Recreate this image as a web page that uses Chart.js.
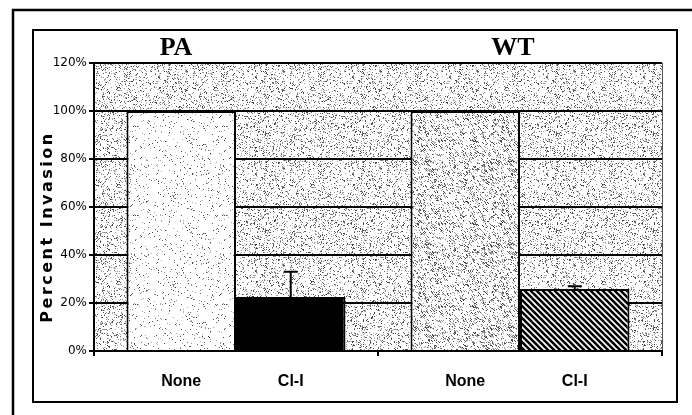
<!DOCTYPE html>
<html>
<head>
<meta charset="utf-8">
<script src="https://cdn.jsdelivr.net/npm/chart.js@4"></script>
<style>
  html, body { margin: 0; padding: 0; background: #fff; }
  canvas { display: block; }
</style>
</head>
<body>
<canvas id="c" width="692" height="415"></canvas>
<script>
// Percent invasion, PA vs WT, untreated ("None") vs Cl-I treated.

const groups = ["PA", "WT"];
const seriesNames = ["None", "Cl-I"];
const noneValues = [100, 100];
const clValues = [22.5, 25.8];
const clErrTop = [33, 27];          // upper whisker only
const yTicks = [0, 20, 40, 60, 80, 100, 120];
const groupTitleDx = [-60, -7];     // title offset from group centre (px)

(function () {
  const canvas = document.getElementById("c");
  const ctx = canvas.getContext("2d");

  // ---- fill textures ----------------------------------------------------

  // small deterministic speckle tile, looks like the scanned halftone
  function stipple(size, density, seed, diag) {
    const off = document.createElement("canvas");
    off.width = off.height = size;
    const g = off.getContext("2d");
    g.fillStyle = "#fff";
    g.fillRect(0, 0, size, size);
    let s = seed;
    const next = () => (s = (s * 1103515245 + 12345) & 0x7fffffff) / 0x7fffffff;
    const n = Math.round(size * size * density);
    const inks = ["#666", "#999", "#aaa", "#444"];
    for (let i = 0; i < n; i++) {
      g.fillStyle = inks[i % inks.length];
      const px = Math.floor(next() * size), py = Math.floor(next() * size);
      g.fillRect(px, py, 1, 1);
      if (diag && i % 3 === 0) g.fillRect((px + 1) % size, (py + 1) % size, 1, 1);
    }
    return ctx.createPattern(off, "repeat");
  }

  function stripes(period, width) {
    const off = document.createElement("canvas");
    off.width = off.height = period;
    const g = off.getContext("2d");
    g.fillStyle = "#fff";
    g.fillRect(0, 0, period, period);
    g.strokeStyle = "#000";
    g.lineWidth = width;
    g.beginPath();
    g.moveTo(-period, -period); g.lineTo(2 * period, 2 * period);
    g.moveTo(-period, 0); g.lineTo(period, 2 * period);
    g.moveTo(0, -period); g.lineTo(2 * period, period);
    g.stroke();
    return ctx.createPattern(off, "repeat");
  }

  const plotFill = stipple(97, 0.2, 7, false);
  const paNoneFill = stipple(89, 0.06, 31, false);
  const wtNoneFill = stipple(83, 0.2, 113, true);
  const hatchFill = stripes(6, 2.6);

  // ---- plugins -----------------------------------------------------------

  const frame = {
    id: "frame",
    beforeDraw(chart) {
      const c = chart.ctx, a = chart.chartArea;
      c.save();
      c.fillStyle = plotFill;
      c.fillRect(a.left, a.top, a.right - a.left, a.bottom - a.top);
      c.strokeStyle = "#000";
      c.lineWidth = 2.5;
      c.beginPath();
      c.moveTo(692, 10); c.lineTo(13, 10); c.lineTo(13, 415);
      c.stroke();
      c.lineWidth = 2;
      c.strokeRect(33, 30, 644, 372);
      c.strokeStyle = "#555";
      c.lineWidth = 1;
      c.beginPath();
      c.moveTo(a.right + 0.5, a.top); c.lineTo(a.right + 0.5, a.bottom);
      c.stroke();
      c.restore();
    },
  };

  const extras = {
    id: "extras",
    afterDatasetsDraw(chart) {
      const c = chart.ctx, y = chart.scales.y, x = chart.scales.x;
      const a = chart.chartArea;
      c.save();
      // error bars on the Cl-I bars
      c.strokeStyle = "#000";
      c.lineWidth = 2;
      chart.getDatasetMeta(1).data.forEach((bar, i) => {
        const top = y.getPixelForValue(clErrTop[i]);
        c.beginPath();
        c.moveTo(bar.x, bar.y);
        c.lineTo(bar.x, top);
        c.moveTo(bar.x - 7, top);
        c.lineTo(bar.x + 7, top);
        c.stroke();
      });
      // series labels under each bar
      c.fillStyle = "#000";
      c.font = "bold 16px 'Liberation Sans', Arial, sans-serif";
      c.textAlign = "center";
      c.textBaseline = "middle";
      [0, 1].forEach((d) => {
        chart.getDatasetMeta(d).data.forEach((bar) => {
          c.fillText(seriesNames[d], bar.x, 382);
        });
      });
      // group titles
      c.font = "bold 26px 'Liberation Serif', 'Times New Roman', serif";
      c.textBaseline = "alphabetic";
      groups.forEach((g, i) => {
        c.fillText(g, x.getPixelForValue(i) + groupTitleDx[i], 55);
      });
      // y axis title, letter-spaced
      c.translate(48, (a.top + a.bottom) / 2 + 20);
      c.rotate(-Math.PI / 2);
      c.font = "bold 16px 'DejaVu Sans', Verdana, sans-serif";
      c.letterSpacing = "2.5px";
      c.textBaseline = "middle";
      c.fillText("Percent Invasion", 0, 0);
      c.restore();
    },
  };

  new Chart(canvas, {
    type: "bar",
    data: {
      labels: groups,
      datasets: [
        {
          label: seriesNames[0],
          data: noneValues,
          backgroundColor: [paNoneFill, wtNoneFill],
          borderColor: "#000",
          borderWidth: 2,
        },
        {
          label: seriesNames[1],
          data: clValues,
          backgroundColor: ["#000", hatchFill],
          borderColor: "#000",
          borderWidth: 2,
        },
      ],
    },
    options: {
      responsive: false,
      animation: false,
      events: [],
      categoryPercentage: 0.771,
      barPercentage: 1,
      layout: { padding: { top: 63, right: 30, left: 0, bottom: 0 } },
      plugins: { legend: { display: false }, tooltip: { enabled: false } },
      scales: {
        x: {
          afterFit: (s) => { s.height = 64; },
          ticks: { display: false },
          grid: { offset: true, drawOnChartArea: false, color: "#000", lineWidth: 2, tickLength: 5 },
          border: { color: "#000", width: 2 },
        },
        y: {
          min: 0,
          max: 120,
          afterFit: (s) => { s.width = 94; },
          afterBuildTicks: (s) => { s.ticks = yTicks.map((v) => ({ value: v })); },
          ticks: {
            callback: (v) => v + "%",
            color: "#000",
            padding: 2,
            font: { family: "'DejaVu Sans', Verdana, sans-serif", size: 12 },
          },
          grid: { color: "#000", lineWidth: 2, tickLength: 5 },
          border: { color: "#000", width: 2 },
        },
      },
    },
    plugins: [frame, extras],
  });
})();
</script>
</body>
</html>
